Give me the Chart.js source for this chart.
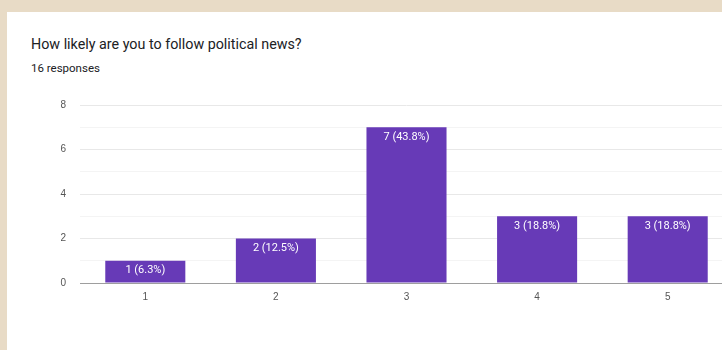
<!DOCTYPE html>
<html>
<head>
<meta charset="utf-8">
<script src="https://cdn.jsdelivr.net/npm/chart.js@4"></script>
<style>
  html, body { margin: 0; padding: 0; width: 722px; height: 350px; overflow: hidden; }
  body { background: #e8dbc6; position: relative; font-family: Roboto, "Noto Sans", Arial, sans-serif; }
  #card { position: absolute; left: 7px; top: 12px; width: 730px; height: 350px; background: #fff; }
  #title { position: absolute; left: 24px; top: 24px; font-size: 14.3px; color: #202124; }
  #count { position: absolute; left: 24px; top: 49px; font-size: 11.5px; color: #202124; }
  #wrap { position: absolute; left: 0; top: 73px; width: 726px; height: 265px; }
</style>
</head>
<body>
<div id="card">
  <div id="title">How likely are you to follow political news?</div>
  <div id="count">16 responses</div>
  <div id="wrap"><canvas id="chart" width="726" height="265"></canvas></div>
</div>
<script>
// answers on the 1-5 scale and how many people picked each
const ratings = ['1', '2', '3', '4', '5'];
const responses = [1, 2, 7, 3, 3];
const yTicks = [0, 2, 4, 6, 8];

const total = responses.reduce((a, b) => a + b, 0);

// writes "n (x%)" at the top inside each bar
const barLabels = {
  id: 'barLabels',
  afterDatasetsDraw(chart) {
    const ctx = chart.ctx;
    const meta = chart.getDatasetMeta(0);
    ctx.save();
    ctx.fillStyle = '#ffffff';
    ctx.font = '11px Roboto, Arial, sans-serif';
    ctx.textAlign = 'center';
    ctx.textBaseline = 'middle';
    meta.data.forEach((bar, i) => {
      const v = responses[i];
      const pct = (v / total * 100).toFixed(1);
      ctx.fillText(v + ' (' + pct + '%)', bar.x, bar.y + 9.5);
    });
    ctx.restore();
  }
};

new Chart(document.getElementById('chart'), {
  type: 'bar',
  data: {
    labels: ratings,
    datasets: [{
      data: responses,
      backgroundColor: '#673ab7',
      borderWidth: 0,
      categoryPercentage: 1,
      barPercentage: 0.613
    }]
  },
  options: {
    responsive: false,
    animation: false,
    events: [],
    layout: { padding: { top: 0, left: 0, right: 0, bottom: 0 } },
    plugins: { legend: { display: false }, tooltip: { enabled: false } },
    scales: {
      x: {
        grid: { display: false, drawTicks: false },
        border: { color: '#9e9e9e', width: 1 },
        ticks: { color: '#555', font: { size: 10 }, padding: 8 },
        afterFit: s => { s.height = 67; }
      },
      y: {
        min: 0,
        max: 8,
        ticks: {
          stepSize: 1,
          autoSkip: false,
          color: '#555',
          font: { size: 10 },
          padding: 14,
          callback: v => yTicks.includes(v) ? String(v) : ''
        },
        grid: {
          drawTicks: false,
          color: c => c.tick.value % 2 === 0 ? '#e8e8e8' : '#f4f4f4'
        },
        border: { display: false },
        afterFit: s => { s.width = 73; }
      }
    }
  },
  plugins: [barLabels]
});
</script>
</body>
</html>
